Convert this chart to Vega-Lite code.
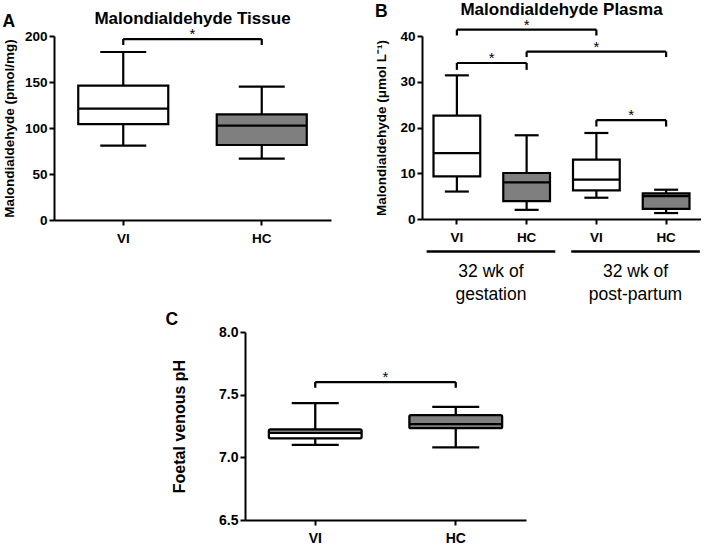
{
  "$schema": "https://vega.github.io/schema/vega-lite/v6.json",
  "padding": {"left": 2, "top": 0, "right": 0, "bottom": 0},
  "config": {
    "font": "Liberation Sans",
    "view": {"stroke": null},
    "axis": {"domainColor": "black", "domainWidth": 2, "tickColor": "black", "tickWidth": 2, "tickSize": 5, "labelColor": "black", "labelFontSize": 13.5, "labelFontWeight": "bold", "labelFont": "Liberation Sans", "titleFont": "Liberation Sans", "titleFontSize": 13.5, "titleFontWeight": "bold", "titleColor": "black", "grid": false},
    "axisX": {"labelAngle": 0, "labelPadding": 6},
    "axisY": {"labelPadding": 2},
    "tick": {"opacity": 1},
    "title": {"font": "Liberation Sans", "fontSize": 17, "fontWeight": "bold", "color": "black"}
  },
  "datasets": {
    "tissue": [
      {"group": "VI", "lower": 80.8, "q1": 104.3, "median": 121, "q3": 146, "upper": 182.6},
      {"group": "HC", "lower": 66.7, "q1": 81.5, "median": 102.5, "q3": 114.9, "upper": 144.9}
    ],
    "tissueBr": [{"from": "VI", "to": "HC", "y": 196.7, "drop": 190.2}],
    "plasma": [
      {"cat": "VI gestation", "group": "VI", "lower": 6.0, "q1": 9.3, "median": 14.4, "q3": 22.6, "upper": 31.4},
      {"cat": "HC gestation", "group": "HC", "lower": 2.0, "q1": 3.9, "median": 8.0, "q3": 10.05, "upper": 18.3},
      {"cat": "VI post-partum", "group": "VI", "lower": 4.65, "q1": 6.25, "median": 8.6, "q3": 13.0, "upper": 18.8},
      {"cat": "HC post-partum", "group": "HC", "lower": 1.3, "q1": 2.2, "median": 5.0, "q3": 5.6, "upper": 6.4}
    ],
    "plasmaBr": [
      {"from": "VI gestation", "to": "VI post-partum", "y": 41.4, "drop": 40.1},
      {"from": "VI gestation", "to": "HC gestation", "y": 34.1, "drop": 32.6},
      {"from": "HC gestation", "to": "HC post-partum", "y": 36.6, "drop": 35.4},
      {"from": "VI post-partum", "to": "HC post-partum", "y": 21.6, "drop": 20.2}
    ],
    "plasmaStarMid": [{"at": "HC gestation", "y": 41.4}, {"at": "VI post-partum", "y": 36.6}],
    "plasmaStarEdge": [{"at": "VI gestation", "y": 34.1}, {"at": "VI post-partum", "y": 21.6}],
    "periods": [{"period": "32 wk of gestation"}, {"period": "32 wk of post-partum"}],
    "ph": [
      {"group": "VI", "lower": 7.10, "q1": 7.152, "median": 7.196, "q3": 7.222, "upper": 7.432},
      {"group": "HC", "lower": 7.079, "q1": 7.233, "median": 7.265, "q3": 7.337, "upper": 7.403}
    ],
    "phBr": [{"from": "VI", "to": "HC", "y": 7.60, "drop": 7.555}]
  },
  "vconcat": [
    {
      "spacing": 43,
      "hconcat": [
        {
          "title": {"text": "A", "anchor": "start", "frame": "bounds", "offset": -20, "fontSize": 17.5},
          "vconcat": [
            {
              "width": 277,
              "height": 184,
              "title": {"text": "Malondialdehyde Tissue", "anchor": "middle", "frame": "group", "offset": -1},
              "layer": [
                {
                  "data": {"name": "tissue"},
                  "encoding": {
                    "x": {"field": "group", "type": "nominal", "title": null, "scale": {"type": "band", "domain": ["VI", "HC"], "paddingInner": 0, "paddingOuter": 0}}
                  },
                  "layer": [
                    {"mark": {"type": "rule", "color": "black", "strokeWidth": 2.2},
                     "encoding": {"y": {"field": "lower", "type": "quantitative", "title": "Malondialdehyde (pmol/mg)", "scale": {"domain": [0, 200], "nice": false}, "axis": {"values": [0, 50, 100, 150, 200], "titlePadding": 8}}, "y2": {"field": "upper"}}},
                    {"mark": {"type": "bar", "width": {"band": 0.65}, "stroke": "black", "strokeWidth": 2.2},
                     "encoding": {"y": {"field": "q1", "type": "quantitative", "title": "Malondialdehyde (pmol/mg)"}, "y2": {"field": "q3"}, "fill": {"field": "group", "type": "nominal", "scale": {"domain": ["VI", "HC"], "range": ["#ffffff", "#7f7f7f"]}, "legend": null}}},
                    {"mark": {"type": "tick", "color": "black", "opacity": 1, "thickness": 2.2, "size": 90},
                     "encoding": {"y": {"field": "median", "type": "quantitative", "title": "Malondialdehyde (pmol/mg)"}}},
                    {"mark": {"type": "tick", "color": "black", "opacity": 1, "thickness": 2.2, "size": 46},
                     "encoding": {"y": {"field": "lower", "type": "quantitative", "title": "Malondialdehyde (pmol/mg)"}}},
                    {"mark": {"type": "tick", "color": "black", "opacity": 1, "thickness": 2.2, "size": 46},
                     "encoding": {"y": {"field": "upper", "type": "quantitative", "title": "Malondialdehyde (pmol/mg)"}}}
                  ]
                },
                {
                  "data": {"name": "tissueBr"},
                  "layer": [
                    {"mark": {"type": "rule", "color": "black", "strokeWidth": 2.2},
                     "encoding": {"x": {"field": "from", "type": "nominal", "title": null, "bandPosition": 0.5}, "x2": {"field": "to", "bandPosition": 0.5}, "y": {"field": "y", "type": "quantitative", "title": "Malondialdehyde (pmol/mg)"}}},
                    {"mark": {"type": "rule", "color": "black", "strokeWidth": 2.2},
                     "encoding": {"x": {"field": "from", "type": "nominal", "title": null}, "y": {"field": "y", "type": "quantitative", "title": "Malondialdehyde (pmol/mg)"}, "y2": {"field": "drop"}}},
                    {"mark": {"type": "rule", "color": "black", "strokeWidth": 2.2},
                     "encoding": {"x": {"field": "to", "type": "nominal", "title": null}, "y": {"field": "y", "type": "quantitative", "title": "Malondialdehyde (pmol/mg)"}, "y2": {"field": "drop"}}},
                    {"mark": {"type": "text", "text": "*", "fontSize": 15, "baseline": "alphabetic", "color": "black"},
                     "encoding": {"x": {"field": "from", "type": "nominal", "title": null, "bandPosition": 1}, "y": {"field": "y", "type": "quantitative", "title": "Malondialdehyde (pmol/mg)"}}}
                  ]
                }
              ]
            }
          ]
        },
        {
          "title": {"text": "B", "anchor": "start", "frame": "bounds", "offset": -20, "fontSize": 17.5},
          "vconcat": [
            {
              "width": 279,
              "height": 183,
              "title": {"text": "Malondialdehyde Plasma", "anchor": "middle", "frame": "group", "offset": -1},
              "resolve": {"scale": {"x": "independent"}, "axis": {"x": "independent"}},
              "layer": [
                {
                  "layer": [
                    {
                      "data": {"name": "plasma"},
                      "encoding": {
                        "x": {"field": "cat", "type": "nominal", "title": null, "scale": {"type": "band", "domain": ["VI gestation", "HC gestation", "VI post-partum", "HC post-partum"], "paddingInner": 0, "paddingOuter": 0}, "axis": {"labelExpr": "split(datum.label, ' ')[0]"}}
                      },
                      "layer": [
                        {"mark": {"type": "rule", "color": "black", "strokeWidth": 2.2},
                         "encoding": {"y": {"field": "lower", "type": "quantitative", "title": "Malondialdehyde (μmol L⁻¹)", "scale": {"domain": [0, 40], "nice": false}, "axis": {"values": [0, 10, 20, 30, 40], "titlePadding": 11}}, "y2": {"field": "upper"}}},
                        {"mark": {"type": "bar", "width": {"band": 0.67}, "stroke": "black", "strokeWidth": 2.2},
                         "encoding": {"y": {"field": "q1", "type": "quantitative", "title": "Malondialdehyde (μmol L⁻¹)"}, "y2": {"field": "q3"}, "fill": {"field": "group", "type": "nominal", "scale": {"domain": ["VI", "HC"], "range": ["#ffffff", "#7f7f7f"]}, "legend": null}}},
                        {"mark": {"type": "tick", "color": "black", "opacity": 1, "thickness": 2.2, "size": 47},
                         "encoding": {"y": {"field": "median", "type": "quantitative", "title": "Malondialdehyde (μmol L⁻¹)"}}},
                        {"mark": {"type": "tick", "color": "black", "opacity": 1, "thickness": 2.2, "size": 24},
                         "encoding": {"y": {"field": "lower", "type": "quantitative", "title": "Malondialdehyde (μmol L⁻¹)"}}},
                        {"mark": {"type": "tick", "color": "black", "opacity": 1, "thickness": 2.2, "size": 24},
                         "encoding": {"y": {"field": "upper", "type": "quantitative", "title": "Malondialdehyde (μmol L⁻¹)"}}}
                      ]
                    },
                    {
                      "data": {"name": "plasmaBr"},
                      "layer": [
                        {"mark": {"type": "rule", "color": "black", "strokeWidth": 2.2},
                         "encoding": {"x": {"field": "from", "type": "nominal", "title": null, "bandPosition": 0.5}, "x2": {"field": "to", "bandPosition": 0.5}, "y": {"field": "y", "type": "quantitative", "title": "Malondialdehyde (μmol L⁻¹)"}}},
                        {"mark": {"type": "rule", "color": "black", "strokeWidth": 2.2},
                         "encoding": {"x": {"field": "from", "type": "nominal", "title": null}, "y": {"field": "y", "type": "quantitative", "title": "Malondialdehyde (μmol L⁻¹)"}, "y2": {"field": "drop"}}},
                        {"mark": {"type": "rule", "color": "black", "strokeWidth": 2.2},
                         "encoding": {"x": {"field": "to", "type": "nominal", "title": null}, "y": {"field": "y", "type": "quantitative", "title": "Malondialdehyde (μmol L⁻¹)"}, "y2": {"field": "drop"}}}
                      ]
                    },
                    {
                      "data": {"name": "plasmaStarMid"},
                      "mark": {"type": "text", "text": "*", "fontSize": 15, "baseline": "alphabetic", "color": "black"},
                      "encoding": {"x": {"field": "at", "type": "nominal", "title": null}, "y": {"field": "y", "type": "quantitative", "title": "Malondialdehyde (μmol L⁻¹)"}}
                    },
                    {
                      "data": {"name": "plasmaStarEdge"},
                      "mark": {"type": "text", "text": "*", "fontSize": 15, "baseline": "alphabetic", "color": "black"},
                      "encoding": {"x": {"field": "at", "type": "nominal", "title": null, "bandPosition": 1}, "y": {"field": "y", "type": "quantitative", "title": "Malondialdehyde (μmol L⁻¹)"}}
                    }
                  ]
                },
                {
                  "data": {"name": "periods"},
                  "mark": {"type": "rule", "color": "black", "strokeWidth": 2.3},
                  "encoding": {
                    "x": {"field": "period", "type": "nominal", "title": null, "bandPosition": 0, "scale": {"type": "band", "domain": ["32 wk of gestation", "32 wk of post-partum"], "paddingInner": 0.11, "paddingOuter": 0.02, "align": 0.8}, "axis": {"orient": "bottom", "offset": 43, "domain": false, "ticks": false, "tickSize": 0, "labelPadding": 0, "labelFontSize": 17.5, "labelFontWeight": "normal", "labelLineHeight": 23, "labelOverlap": false, "labelExpr": "[substring(datum.label, 0, 8), substring(datum.label, 9)]"}},
                    "x2": {"field": "period", "bandPosition": 1},
                    "y": {"datum": -7.1, "type": "quantitative", "title": "Malondialdehyde (μmol L⁻¹)", "scale": {"domain": [0, 40], "nice": false}}
                  }
                }
              ]
            }
          ]
        }
      ]
    },
    {
      "spacing": 0,
      "hconcat": [
        {"width": 111, "height": 10, "data": {"values": []}, "mark": {"type": "point", "opacity": 0}, "encoding": {}},
        {
          "width": 281,
          "height": 188,
          "title": {"text": "C", "anchor": "start", "frame": "bounds", "fontSize": 17.5, "dx": -6, "offset": -3},
          "layer": [
            {
              "data": {"name": "ph"},
              "encoding": {
                "x": {"field": "group", "type": "nominal", "title": null, "scale": {"type": "band", "domain": ["VI", "HC"], "paddingInner": 0, "paddingOuter": 0}, "axis": {"labelFontSize": 14}}
              },
              "layer": [
                {"mark": {"type": "rule", "color": "black", "strokeWidth": 2.3},
                 "encoding": {"y": {"field": "lower", "type": "quantitative", "title": "Foetal venous pH", "scale": {"domain": [6.5, 8.0], "nice": false, "zero": false}, "axis": {"values": [6.5, 7.0, 7.5, 8.0], "format": ".1f", "titlePadding": 31, "titleFontSize": 16, "labelFontSize": 14}}, "y2": {"field": "upper"}}},
                {"mark": {"type": "bar", "width": {"band": 0.66}, "stroke": "black", "strokeWidth": 2.3, "cornerRadius": 1.5},
                 "encoding": {"y": {"field": "q1", "type": "quantitative", "title": "Foetal venous pH"}, "y2": {"field": "q3"}, "fill": {"field": "group", "type": "nominal", "scale": {"domain": ["VI", "HC"], "range": ["#ffffff", "#7f7f7f"]}, "legend": null}}},
                {"mark": {"type": "tick", "color": "black", "opacity": 1, "thickness": 2.3, "size": 92},
                 "encoding": {"y": {"field": "median", "type": "quantitative", "title": "Foetal venous pH"}}},
                {"mark": {"type": "tick", "color": "black", "opacity": 1, "thickness": 2.3, "size": 47},
                 "encoding": {"y": {"field": "lower", "type": "quantitative", "title": "Foetal venous pH"}}},
                {"mark": {"type": "tick", "color": "black", "opacity": 1, "thickness": 2.3, "size": 47},
                 "encoding": {"y": {"field": "upper", "type": "quantitative", "title": "Foetal venous pH"}}}
              ]
            },
            {
              "data": {"name": "phBr"},
              "layer": [
                {"mark": {"type": "rule", "color": "black", "strokeWidth": 2.3},
                 "encoding": {"x": {"field": "from", "type": "nominal", "title": null, "bandPosition": 0.5}, "x2": {"field": "to", "bandPosition": 0.5}, "y": {"field": "y", "type": "quantitative", "title": "Foetal venous pH"}}},
                {"mark": {"type": "rule", "color": "black", "strokeWidth": 2.3},
                 "encoding": {"x": {"field": "from", "type": "nominal", "title": null}, "y": {"field": "y", "type": "quantitative", "title": "Foetal venous pH"}, "y2": {"field": "drop"}}},
                {"mark": {"type": "rule", "color": "black", "strokeWidth": 2.3},
                 "encoding": {"x": {"field": "to", "type": "nominal", "title": null}, "y": {"field": "y", "type": "quantitative", "title": "Foetal venous pH"}, "y2": {"field": "drop"}}},
                {"mark": {"type": "text", "text": "*", "fontSize": 15, "baseline": "alphabetic", "color": "black"},
                 "encoding": {"x": {"field": "from", "type": "nominal", "title": null, "bandPosition": 1}, "y": {"field": "y", "type": "quantitative", "title": "Foetal venous pH"}}}
              ]
            }
          ]
        }
      ]
    }
  ],
  "spacing": 7
}
